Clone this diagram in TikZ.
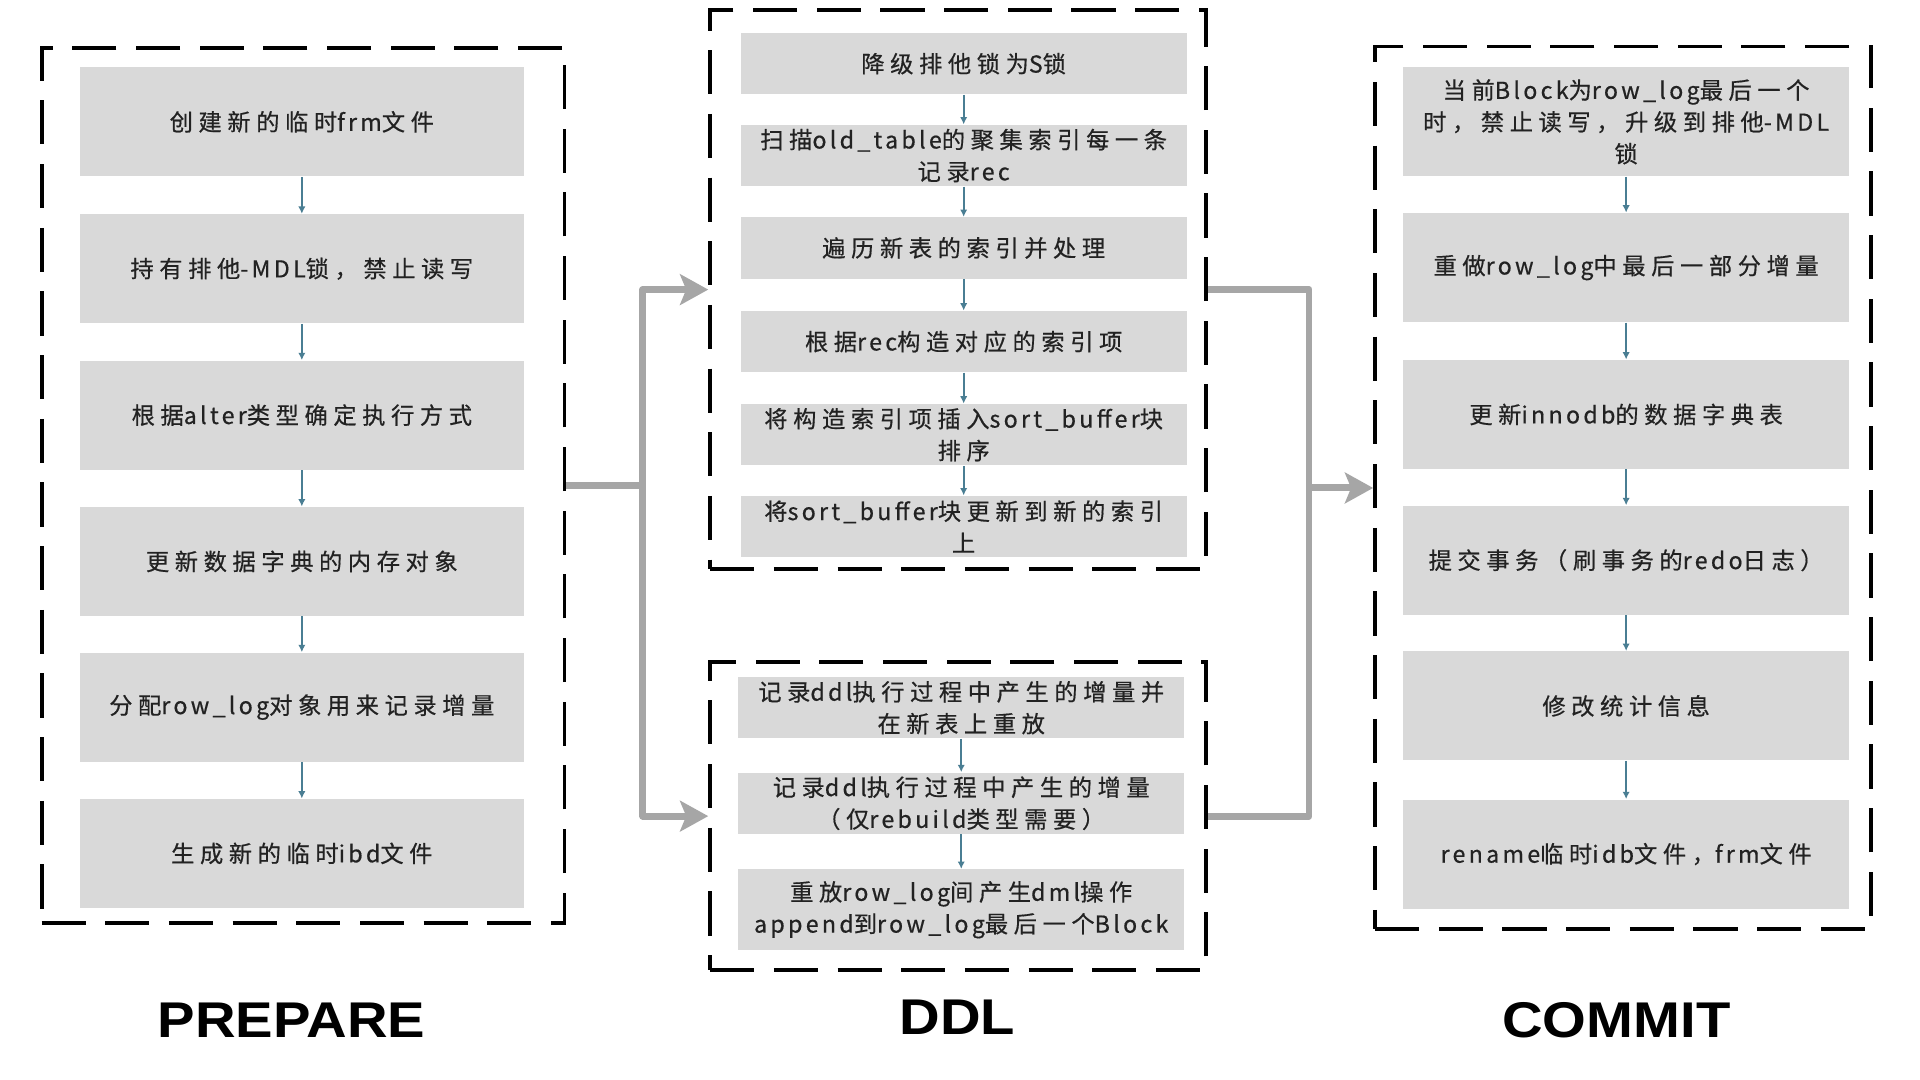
\documentclass[tikz,border=0pt]{standalone}
\usepackage{fontspec}
\usepackage{graphicx}
\setmainfont{Noto Sans CJK SC}[LetterSpace=24, FakeBold=0.5]
\newfontfamily\latfont{Noto Sans CJK SC}[LetterSpace=14, FakeBold=0.5]
\newfontfamily\labelfont{Liberation Sans}[Scale=1]
\newcommand{\la}[1]{{\latfont #1}}
\usetikzlibrary{arrows.meta}
\definecolor{boxgray}{HTML}{D9D9D9}
\definecolor{conngray}{HTML}{A6A6A6}
\definecolor{flowteal}{HTML}{4A7E93}
\definecolor{txt}{HTML}{222222}
\newcommand{\boxfont}{\fontsize{9.5}{13}\selectfont}
\newcommand{\stagefont}{\labelfont\bfseries\fontsize{20.5}{24}\selectfont}
\tikzset{
  frame/.style={draw=black, line width=1.6pt, dash pattern=on 18pt off 8pt, rectangle, inner sep=0pt},
  gbox/.style={rectangle, fill=boxgray, inner sep=0pt, align=center, text=txt, font=\boxfont},
  flow/.style={draw=flowteal, line width=0.7pt, -{Latex[length=3pt,width=3pt]}},
  connline/.style={draw=conngray, line width=2.85pt, line join=round},
  conn/.style={connline, -{Stealth[length=11.5pt,width=12.5pt,inset=2.5pt]}},
  stage/.style={font=\stagefont, text=black, inner sep=0pt}
}
\begin{document}
\begin{tikzpicture}[x=0.5pt, y=-0.5pt]
\fill[white] (0,0) rectangle (1568,882);
\useasboundingbox (0,0) rectangle (1568,882);

% frames
\node[frame, minimum width=213.5pt, minimum height=357.5pt] (prep) at (247.5,396.5) {};
\node[frame, minimum width=202.5pt, minimum height=228.5pt] (ddlA) at (782.5,236.5) {};
\node[frame, minimum width=202.5pt, minimum height=125.5pt] (ddlB) at (782.5,666.5) {};
\node[frame, minimum width=202.5pt, minimum height=360.5pt] (com) at (1325.5,398.5) {};

% PREPARE boxes
\begin{scope}[every node/.append style={gbox, minimum width=181.5pt, minimum height=44.5pt}]
\node (p1) at (246.5,99.5) {创建新的临时\la{frm}文件};
\node (p2) at (246.5,219.5) {持有排他\la{-MDL}锁，禁止读写};
\node (p3) at (246.5,339) {根据\la{alter}类型确定执行方式};
\node (p4) at (246.5,458.5) {更新数据字典的内存对象};
\node (p5) at (246.5,577.5) {分配\la{row\_log}对象用来记录增量};
\node (p6) at (246.5,697) {生成新的临时\la{ibd}文件};
\end{scope}

% DDL top boxes
\begin{scope}[every node/.append style={gbox, minimum width=182pt, minimum height=25pt}]
\node (d1) at (787,52) {降级排他锁为\la{S}锁};
\node (d2) at (787,127) {扫描\la{old\_table}的聚集索引每一条\\记录\la{rec}};
\node (d3) at (787,202.5) {遍历新表的索引并处理};
\node (d4) at (787,279) {根据\la{rec}构造对应的索引项};
\node (d5) at (787,355) {将构造索引项插入\la{sort\_buffer}块\\排序};
\node (d6) at (787,430) {将\la{sort\_buffer}块更新到新的索引\\上};
\end{scope}

% DDL bottom boxes
\begin{scope}[every node/.append style={gbox, minimum width=182pt}]
\node[minimum height=25pt] (e1) at (785,578) {记录\la{ddl}执行过程中产生的增量并\\在新表上重放};
\node[minimum height=25pt] (e2) at (785,656) {记录\la{ddl}执行过程中产生的增量\\（仅\la{rebuild}类型需要）};
\node[minimum height=33pt] (e3) at (785,743) {重放\la{row\_log}间产生\la{dml}操作\\\la{append}到\la{row\_log}最后一个\la{Block}};
\end{scope}

% COMMIT boxes
\begin{scope}[every node/.append style={gbox, minimum width=182pt, minimum height=44.5pt}]
\node (c1) at (1328,99.5) {当前\la{Block}为\la{row\_log}最后一个\\时，禁止读写，升级到排他\la{-MDL}\\锁};
\node (c2) at (1328,218.5) {重做\la{row\_log}中最后一部分增量};
\node (c3) at (1328,338.5) {更新\la{innodb}的数据字典表};
\node (c4) at (1328,457.5) {提交事务（刷事务的\la{redo}日志）};
\node (c5) at (1328,576.5) {修改统计信息};
\node (c6) at (1328,697.5) {\la{rename}临时\la{idb}文件，\la{frm}文件};
\end{scope}

% small flow arrows
\foreach \a/\b in {p1/p2,p2/p3,p3/p4,p4/p5,p5/p6,
                   d1/d2,d2/d3,d3/d4,d4/d5,d5/d6,
                   e1/e2,e2/e3,
                   c1/c2,c2/c3,c3/c4,c4/c5,c5/c6}
  \draw[flow] (\a.south) -- (\b.north);

% big connectors
\coordinate (lb) at (525,396.5);
\coordinate (rb) at (1069,398.5);
\draw[connline] (prep.east) -- (lb);
\draw[conn] (lb) |- (ddlA.west);
\draw[conn] (lb) |- (ddlB.west);
\draw[connline] (ddlA.east) -| (rb) |- (ddlB.east);
\draw[conn] (rb) -- (com.west);

% stage labels
\node[stage] (lp) at (238,833) {\scalebox{1.12}[1]{PREPARE}};
\node[stage] (ld) at (782,831) {\scalebox{1.12}[1]{DDL}};
\node[stage] (lc) at (1320,833) {\scalebox{1.12}[1]{COMMIT}};
\end{tikzpicture}
\end{document}
